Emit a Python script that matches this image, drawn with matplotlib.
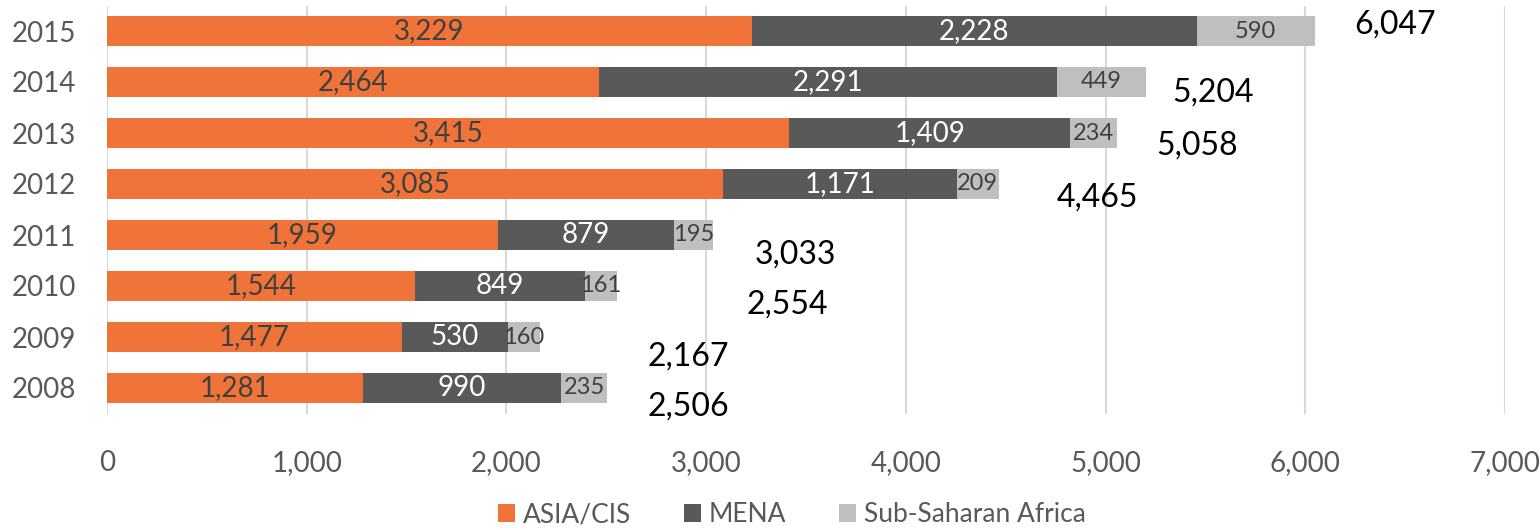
import matplotlib.pyplot as plt
from matplotlib.ticker import FuncFormatter

years = ['2008', '2009', '2010', '2011', '2012', '2013', '2014', '2015']
asia_cis = [1281, 1477, 1544, 1959, 3085, 3415, 2464, 3229]
mena = [990, 530, 849, 879, 1171, 1409, 2291, 2228]
ssa = [235, 160, 161, 195, 209, 234, 449, 590]
totals = [2506, 2167, 2554, 3033, 4465, 5058, 5204, 6047]

# where excel dropped the total labels (pixels right of bar end, pixels down)
total_offsets = [(81, -19), (148, -20), (170, -19), (83, -20),
                 (99, -14), (80, -13), (67, -11), (80, 6)]

plt.rcParams['font.family'] = ['Lato', 'DejaVu Sans']

fig = plt.figure(figsize=(15.4, 5.3), dpi=100)
ax = fig.add_axes([107 / 1540, 1 - 413.5 / 530, (1505 - 107) / 1540, 408 / 530])

pos = range(len(years))
h = 0.6
b1 = ax.barh(pos, asia_cis, height=h, color='#F07339', label='ASIA/CIS')
b2 = ax.barh(pos, mena, height=h, left=asia_cis, color='#595959', label='MENA')
left3 = [a + m for a, m in zip(asia_cis, mena)]
b3 = ax.barh(pos, ssa, height=h, left=left3, color='#BFBFBF', label='Sub-Saharan Africa')

fmt = lambda v: f'{v:,}'
ax.bar_label(b1, labels=[fmt(v) for v in asia_cis], label_type='center', color='#404040', fontsize=20)
ax.bar_label(b2, labels=[fmt(v) for v in mena], label_type='center', color='white', fontsize=20)
ax.bar_label(b3, labels=[fmt(v) for v in ssa], label_type='center', color='#404040', fontsize=17)

for i, t in enumerate(totals):
    dx, dy = total_offsets[i]
    ax.annotate(fmt(t), (t, i), xytext=(dx * 0.72, dy * 0.72), textcoords='offset points',
                ha='center', va='center', fontsize=23, color='black')

ax.set_xlim(0, 7000)
ax.set_ylim(-0.5, len(years) - 0.5)
ax.set_xticks(range(0, 7001, 1000))
ax.xaxis.set_major_formatter(FuncFormatter(lambda v, p: f'{int(v):,}'))
ax.set_yticks(list(pos))
ax.set_yticklabels(years)
ax.tick_params(axis='both', length=0, labelsize=20, labelcolor='#595959')
ax.tick_params(axis='x', pad=26)
ax.tick_params(axis='y', pad=22)
ax.grid(axis='x', color='#D9D9D9', linewidth=1.5)
ax.set_axisbelow(True)
for s in ax.spines.values():
    s.set_visible(False)

fig.legend(handles=[b1, b2, b3], loc='center', bbox_to_anchor=(792 / 1540, 1 - 515 / 530),
           ncol=3, frameon=False, fontsize=19, labelcolor='#595959',
           handlelength=0.65, handleheight=0.65, handletextpad=0.3, columnspacing=2.0)

fig.savefig('out.png', dpi=100)
